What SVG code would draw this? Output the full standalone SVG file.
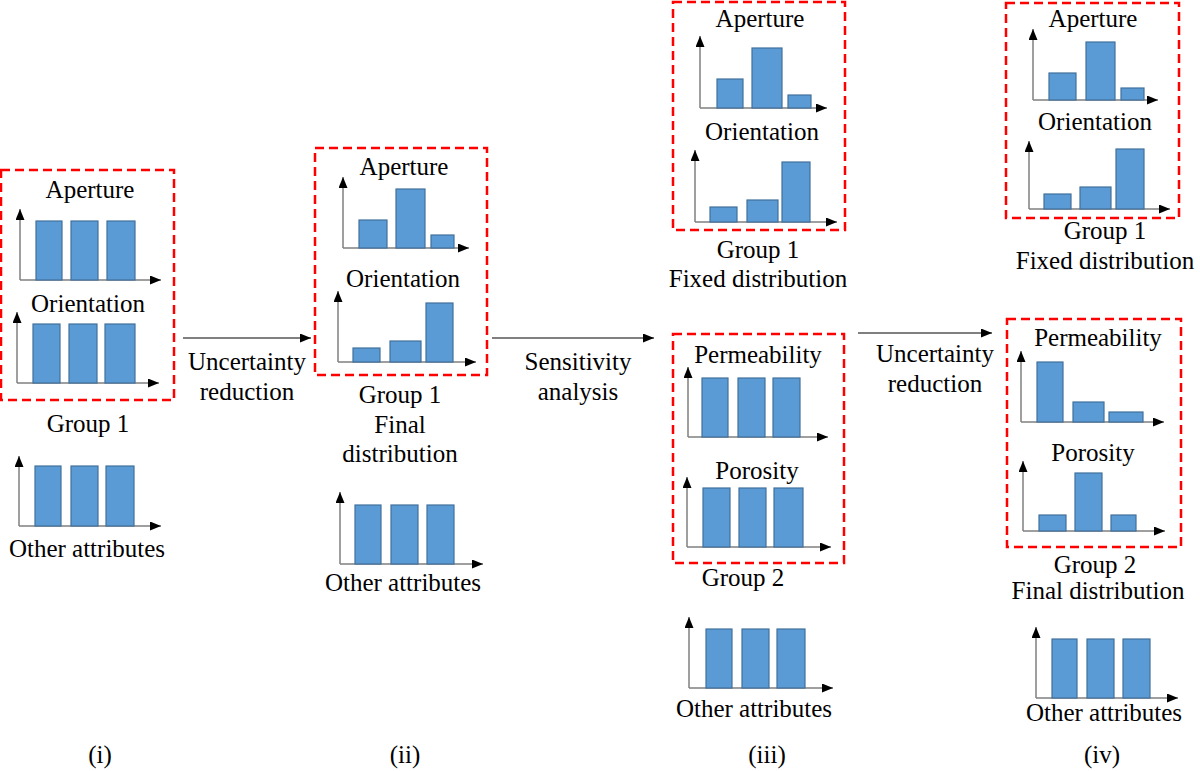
<svg xmlns="http://www.w3.org/2000/svg" width="1200" height="771" viewBox="0 0 1200 771" font-family="'Liberation Serif', 'DejaVu Serif', serif">
<defs>
<marker id="ah" markerUnits="userSpaceOnUse" markerWidth="11" markerHeight="9" refX="11" refY="4.5" orient="auto"><path d="M0,0 L11,4.5 L0,9 z" fill="#000"/></marker>
<style>
text{font-family:'Liberation Serif','DejaVu Serif',serif;font-size:25px;fill:#000;text-anchor:middle}
.box{fill:none;stroke:#ff0000;stroke-width:2.5;stroke-dasharray:9 5}
.ax{stroke:#7f7f7f;stroke-width:1.5;fill:none;marker-end:url(#ah)}
.bar{fill:#5b9bd5;stroke:#41719c;stroke-width:1.2}
.con{stroke:#000;stroke-width:1;fill:none;marker-end:url(#ah)}
</style>
</defs>
<rect width="1200" height="771" fill="#fff"/>

<g id="col1">
<rect class="box" x="1" y="170" width="173" height="230"/>
<text x="90" y="198">Aperture</text>
<line class="ax" x1="20" y1="280" x2="20" y2="209"/><line class="ax" x1="20" y1="280" x2="161" y2="280"/>
<rect class="bar" x="36" y="221" width="26" height="59"/><rect class="bar" x="71" y="221" width="27" height="59"/><rect class="bar" x="107" y="221" width="28" height="59"/>
<text x="88" y="312">Orientation</text>
<line class="ax" x1="17" y1="383" x2="17" y2="312"/><line class="ax" x1="17" y1="383" x2="159" y2="383"/>
<rect class="bar" x="33" y="324" width="27" height="59"/><rect class="bar" x="69" y="324" width="28" height="59"/><rect class="bar" x="105" y="324" width="30" height="59"/>
<text x="88" y="432">Group 1</text>
<line class="ax" x1="19" y1="526" x2="19" y2="456"/><line class="ax" x1="19" y1="526" x2="161" y2="526"/>
<rect class="bar" x="35" y="466" width="26" height="60"/><rect class="bar" x="71" y="466" width="27" height="60"/><rect class="bar" x="106" y="466" width="28" height="60"/>
<text x="87" y="557">Other attributes</text>
<text x="100" y="763">(i)</text>
</g>

<g id="col2">
<rect class="box" x="315" y="148" width="172" height="227"/>
<text x="404" y="175">Aperture</text>
<line class="ax" x1="343" y1="248" x2="343" y2="177"/><line class="ax" x1="343" y1="248" x2="469" y2="248"/>
<rect class="bar" x="359" y="220" width="28" height="28"/><rect class="bar" x="396" y="189" width="29" height="59"/><rect class="bar" x="431" y="235" width="23" height="13"/>
<text x="403" y="287">Orientation</text>
<line class="ax" x1="338" y1="362" x2="338" y2="291"/><line class="ax" x1="338" y1="362" x2="476" y2="362"/>
<rect class="bar" x="353" y="348" width="27" height="14"/><rect class="bar" x="390" y="341" width="31" height="21"/><rect class="bar" x="426" y="303" width="27" height="59"/>
<text x="400" y="403">Group 1</text>
<text x="400" y="433">Final</text>
<text x="400" y="462">distribution</text>
<line class="ax" x1="340" y1="564" x2="340" y2="492"/><line class="ax" x1="340" y1="564" x2="483" y2="564"/>
<rect class="bar" x="355" y="505" width="26" height="59"/><rect class="bar" x="391" y="505" width="27" height="59"/><rect class="bar" x="427" y="505" width="27" height="59"/>
<text x="403" y="591">Other attributes</text>
<text x="405" y="763">(ii)</text>
</g>

<g id="col3">
<rect class="box" x="673" y="2" width="172" height="228"/>
<text x="760" y="27">Aperture</text>
<line class="ax" x1="700" y1="108" x2="700" y2="36"/><line class="ax" x1="700" y1="108" x2="827" y2="108"/>
<rect class="bar" x="717" y="79" width="26" height="29"/><rect class="bar" x="752" y="48" width="30" height="60"/><rect class="bar" x="788" y="95" width="23" height="13"/>
<text x="762" y="140">Orientation</text>
<line class="ax" x1="695" y1="222" x2="695" y2="150"/><line class="ax" x1="695" y1="222" x2="837" y2="222"/>
<rect class="bar" x="710" y="207" width="27" height="15"/><rect class="bar" x="747" y="200" width="31" height="22"/><rect class="bar" x="782" y="162" width="28" height="60"/>
<text x="758" y="258">Group 1</text>
<text x="758" y="287">Fixed distribution</text>
<rect class="box" x="673" y="334" width="171" height="229"/>
<text x="758" y="363">Permeability</text>
<line class="ax" x1="688" y1="437" x2="688" y2="367"/><line class="ax" x1="688" y1="437" x2="828" y2="437"/>
<rect class="bar" x="702" y="378" width="26" height="59"/><rect class="bar" x="738" y="378" width="27" height="59"/><rect class="bar" x="773" y="378" width="27" height="59"/>
<text x="757" y="479">Porosity</text>
<line class="ax" x1="687" y1="547" x2="687" y2="477"/><line class="ax" x1="687" y1="547" x2="831" y2="547"/>
<rect class="bar" x="703" y="488" width="27" height="59"/><rect class="bar" x="739" y="488" width="27" height="59"/><rect class="bar" x="774" y="488" width="29" height="59"/>
<text x="743" y="586">Group 2</text>
<line class="ax" x1="689" y1="688" x2="689" y2="617"/><line class="ax" x1="689" y1="688" x2="833" y2="688"/>
<rect class="bar" x="706" y="629" width="26" height="59"/><rect class="bar" x="742" y="629" width="27" height="59"/><rect class="bar" x="777" y="629" width="28" height="59"/>
<text x="754" y="717">Other attributes</text>
<text x="767" y="763">(iii)</text>
</g>

<g id="col4">
<rect class="box" x="1006" y="3" width="173" height="215"/>
<text x="1093" y="27">Aperture</text>
<line class="ax" x1="1033" y1="100" x2="1033" y2="29"/><line class="ax" x1="1033" y1="100" x2="1158" y2="100"/>
<rect class="bar" x="1049" y="73" width="27" height="27"/><rect class="bar" x="1086" y="42" width="29" height="58"/><rect class="bar" x="1121" y="88" width="23" height="12"/>
<text x="1095" y="130">Orientation</text>
<line class="ax" x1="1029" y1="209" x2="1029" y2="141"/><line class="ax" x1="1029" y1="209" x2="1170" y2="209"/>
<rect class="bar" x="1044" y="194" width="27" height="15"/><rect class="bar" x="1080" y="187" width="31" height="22"/><rect class="bar" x="1116" y="149" width="28" height="60"/>
<text x="1105" y="239">Group 1</text>
<text x="1105" y="269">Fixed distribution</text>
<rect class="box" x="1007" y="319" width="174" height="228"/>
<text x="1098" y="346">Permeability</text>
<line class="ax" x1="1021" y1="422" x2="1021" y2="351"/><line class="ax" x1="1021" y1="422" x2="1164" y2="422"/>
<rect class="bar" x="1037" y="362" width="26" height="60"/><rect class="bar" x="1073" y="402" width="31" height="20"/><rect class="bar" x="1109" y="412" width="34" height="10"/>
<text x="1093" y="461">Porosity</text>
<line class="ax" x1="1023" y1="531" x2="1023" y2="461"/><line class="ax" x1="1023" y1="531" x2="1165" y2="531"/>
<rect class="bar" x="1039" y="515" width="27" height="16"/><rect class="bar" x="1075" y="473" width="27" height="58"/><rect class="bar" x="1111" y="515" width="25" height="16"/>
<text x="1095" y="573">Group 2</text>
<text x="1098" y="599">Final distribution</text>
<line class="ax" x1="1036" y1="698" x2="1036" y2="627"/><line class="ax" x1="1036" y1="698" x2="1178" y2="698"/>
<rect class="bar" x="1052" y="639" width="25" height="59"/><rect class="bar" x="1087" y="639" width="27" height="59"/><rect class="bar" x="1123" y="639" width="27" height="59"/>
<text x="1104" y="721">Other attributes</text>
<text x="1102" y="763">(iv)</text>
</g>

<g id="connectors">
<line class="con" x1="183" y1="338" x2="311" y2="338"/>
<text x="247" y="370">Uncertainty</text>
<text x="247" y="400">reduction</text>
<line class="con" x1="492" y1="338" x2="654" y2="338"/>
<text x="578" y="370">Sensitivity</text>
<text x="578" y="400">analysis</text>
<line class="con" x1="858" y1="333" x2="992" y2="333"/>
<text x="935" y="362">Uncertainty</text>
<text x="935" y="392">reduction</text>
</g>
</svg>
